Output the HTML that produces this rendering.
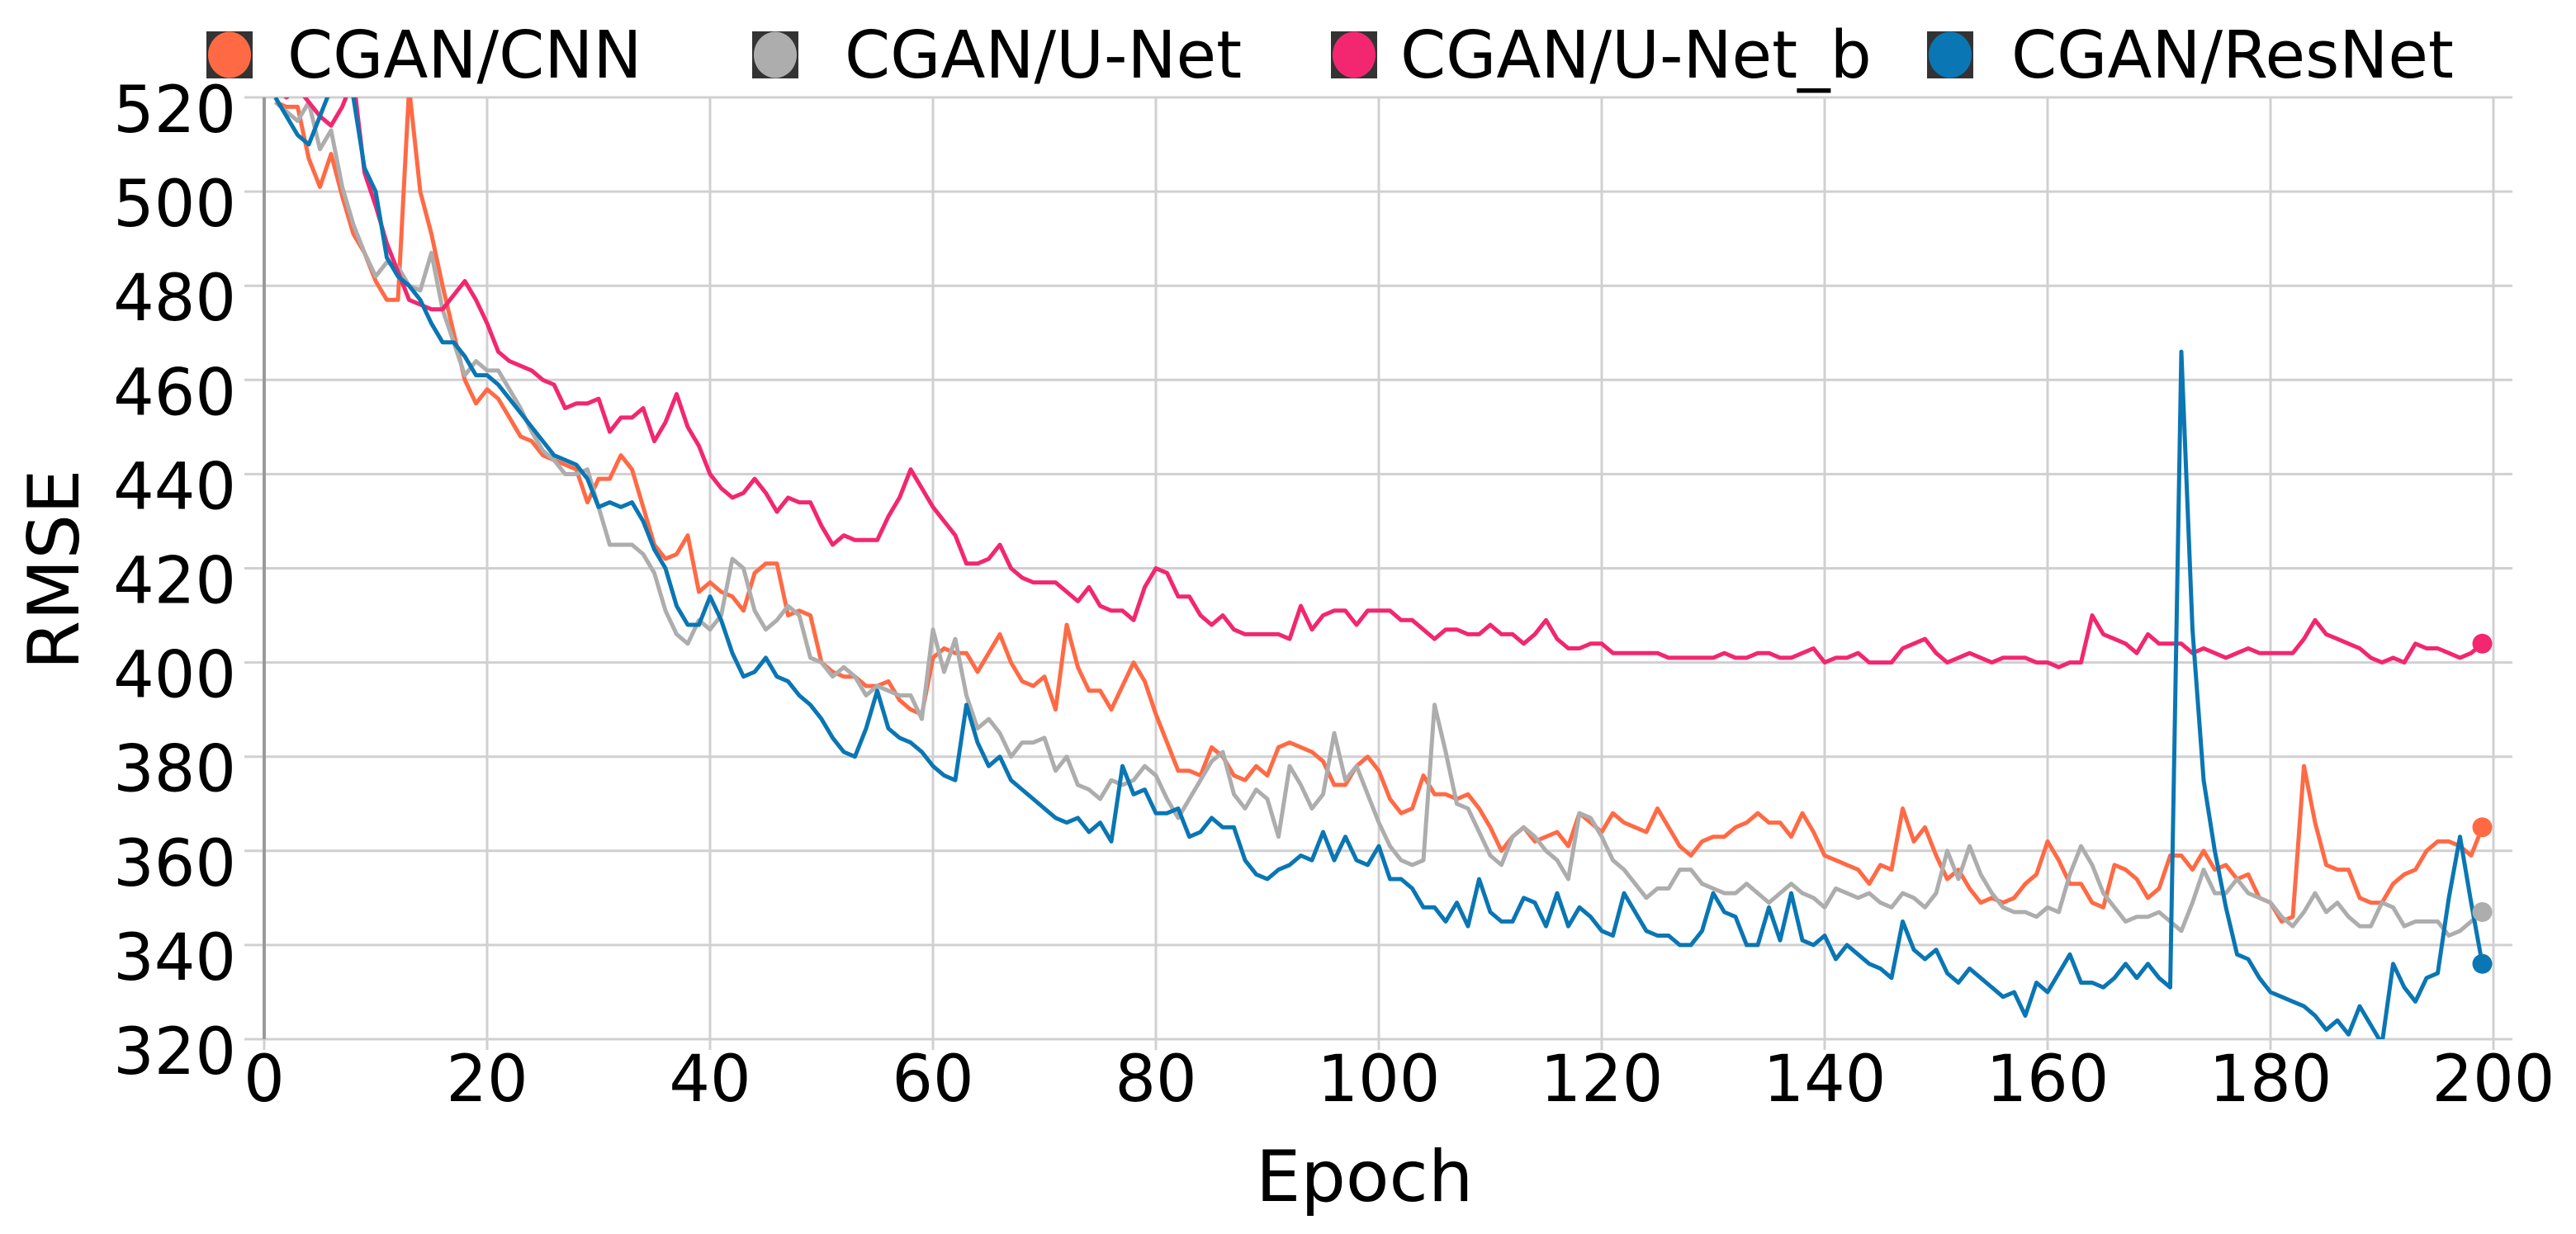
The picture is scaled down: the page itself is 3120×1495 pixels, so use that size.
<!DOCTYPE html>
<html><head><meta charset="utf-8">
<style>
html,body{margin:0;padding:0;background:#fff;}
svg{display:block;font-family:"DejaVu Sans","Liberation Sans",sans-serif;}
</style></head>
<body>
<svg id="chart" width="3120" height="1495" viewBox="0 0 3120 1495" xmlns="http://www.w3.org/2000/svg">
<defs><clipPath id="plotclip"><rect x="320" y="118" width="2723" height="1141"/></clipPath></defs>
<g id="grid"></g>
<g id="ticks"></g>
<g id="series" clip-path="url(#plotclip)"></g>
<g id="dots"></g>
<line x1="320" y1="118" x2="320" y2="1259" stroke="#9a9a9a" stroke-width="4"/>
<text x="1521" y="1455" font-size="86" fill="#000">Epoch</text>
<text x="0" y="0" font-size="86" fill="#000" text-anchor="middle" transform="translate(95,690) rotate(-90)">RMSE</text>
<g id="legend"></g>
</svg>
<script>
const epochs = [];
for (let e = 1; e <= 199; e++) epochs.push(e);
const xTicks = [0,20,40,60,80,100,120,140,160,180,200];
const yTicks = [320,340,360,380,400,420,440,460,480,500,520];
const seriesNames = ["CGAN/CNN","CGAN/U-Net","CGAN/U-Net_b","CGAN/ResNet"];
const cnn = [519,518,518,507,501,508,499,491,487,481,
477,477,522,500,491,480,470,460,455,458,
456,452,448,447,444,443,442,441,434,439,
439,444,441,433,425,422,423,427,415,417,
415,414,411,419,421,421,410,411,410,400,
398,397,397,395,395,396,392,390,389,401,
403,402,402,398,402,406,400,396,395,397,
390,408,399,394,394,390,395,400,396,389,
383,377,377,376,382,380,376,375,378,376,
382,383,382,381,379,374,374,378,380,377,
371,368,369,376,372,372,371,372,369,365,
360,363,365,362,363,364,361,368,366,364,
368,366,365,364,369,365,361,359,362,363,
363,365,366,368,366,366,363,368,364,359,
358,357,356,353,357,356,369,362,365,359,
354,356,352,349,350,349,350,353,355,362,
358,353,353,349,348,357,356,354,350,352,
359,359,356,360,356,357,354,355,350,349,
345,346,378,366,357,356,356,350,349,349,
353,355,356,360,362,362,361,359,365];
const unet = [519,517,515,519,509,513,501,493,487,482,
485,484,480,479,487,475,468,461,464,462,
462,458,454,449,445,443,440,440,441,433,
425,425,425,423,419,411,406,404,409,407,
410,422,420,411,407,409,412,410,401,400,
397,399,397,393,395,394,393,393,388,407,
398,405,393,386,388,385,380,383,383,384,
377,380,374,373,371,375,374,375,378,376,
371,367,371,375,379,381,372,369,373,371,
363,378,374,369,372,385,375,378,372,366,
361,358,357,358,391,381,370,369,364,359,
357,363,365,363,360,358,354,368,367,363,
358,356,353,350,352,352,356,356,353,352,
351,351,353,351,349,351,353,351,350,348,
352,351,350,351,349,348,351,350,348,351,
360,354,361,355,351,348,347,347,346,348,
347,355,361,357,351,348,345,346,346,347,
345,343,349,356,351,351,354,351,350,349,
346,344,347,351,347,349,346,344,344,349,
348,344,345,345,345,342,343,345,347];
const unetB = [522,520,522,519,516,514,518,524,504,497,
489,483,477,476,475,475,478,481,477,472,
466,464,463,462,460,459,454,455,455,456,
449,452,452,454,447,451,457,450,446,440,
437,435,436,439,436,432,435,434,434,429,
425,427,426,426,426,431,435,441,437,433,
430,427,421,421,422,425,420,418,417,417,
417,415,413,416,412,411,411,409,416,420,
419,414,414,410,408,410,407,406,406,406,
406,405,412,407,410,411,411,408,411,411,
411,409,409,407,405,407,407,406,406,408,
406,406,404,406,409,405,403,403,404,404,
402,402,402,402,402,401,401,401,401,401,
402,401,401,402,402,401,401,402,403,400,
401,401,402,400,400,400,403,404,405,402,
400,401,402,401,400,401,401,401,400,400,
399,400,400,410,406,405,404,402,406,404,
404,404,402,403,402,401,402,403,402,402,
402,402,405,409,406,405,404,403,401,400,
401,400,404,403,403,402,401,402,404];
const resnet = [520,516,512,510,516,522,528,520,505,500,
486,482,480,477,472,468,468,465,461,461,
459,456,453,450,447,444,443,442,439,433,
434,433,434,430,424,420,412,408,408,414,
409,402,397,398,401,397,396,393,391,388,
384,381,380,386,394,386,384,383,381,378,
376,375,391,383,378,380,375,373,371,369,
367,366,367,364,366,362,378,372,373,368,
368,369,363,364,367,365,365,358,355,354,
356,357,359,358,364,358,363,358,357,361,
354,354,352,348,348,345,349,344,354,347,
345,345,350,349,344,351,344,348,346,343,
342,351,347,343,342,342,340,340,343,351,
347,346,340,340,348,341,351,341,340,342,
337,340,338,336,335,333,345,339,337,339,
334,332,335,333,331,329,330,325,332,330,
334,338,332,332,331,333,336,333,336,333,
331,466,407,375,360,348,338,337,333,330,
329,328,327,325,322,324,321,327,323,319,
336,331,328,333,334,350,363,349,336];

const NS = "http://www.w3.org/2000/svg";
const X0 = 320, XPE = 13.5, Y520 = 118, Y320 = 1259;
function xs(e){ return X0 + e * XPE; }
function ys(v){ return Y320 - (v - 320) * (Y320 - Y520) / 200; }
function mk(tag, attrs){ const el = document.createElementNS(NS, tag); for (const k in attrs) el.setAttribute(k, attrs[k]); return el; }

const grid = document.getElementById('grid');
const ticks = document.getElementById('ticks');
xTicks.forEach(t => {
  const l = mk('line', {x1: xs(t), x2: xs(t), y1: 118, y2: 1272, stroke: '#d0d0d0', 'stroke-width': 3});
  
  
  grid.appendChild(l);
  const tx = mk('text', {x: xs(t), y: 1334, 'font-size': 78, 'text-anchor': 'middle', fill: '#000'});
  
  
  tx.textContent = t;
  ticks.appendChild(tx);
});
yTicks.forEach(t => {
  const l = mk('line', {x1: 296, x2: 3043, y1: ys(t), y2: ys(t), stroke: '#d0d0d0', 'stroke-width': 3});
  
  
  grid.appendChild(l);
  const tx = mk('text', {x: 286, y: ys(t) + 42, 'font-size': 78, 'text-anchor': 'end', fill: '#000'});
  
  
  tx.textContent = t;
  ticks.appendChild(tx);
});

const seriesData = [cnn, unet, unetB, resnet];
const colors = ['#ff6a45', '#adadad', '#f2276f', '#0a76b3'];
const seriesG = document.getElementById('series');
const dots = document.getElementById('dots');
seriesData.forEach((vals, i) => {
  const d = vals.map((v, j) => (j ? 'L' : 'M') + xs(epochs[j]).toFixed(1) + ' ' + ys(v).toFixed(1)).join(' ');
  const p = mk('path', {d: d, fill: 'none', stroke: colors[i], 'stroke-width': 5, 'stroke-linejoin': 'round'});
  
  
  seriesG.appendChild(p);
  const n = vals.length - 1;
  const c = mk('circle', {cx: xs(epochs[n]), cy: ys(vals[n]), r: 12, fill: colors[i]});
  
  
  dots.appendChild(c);
});

const legend = document.getElementById('legend');
const legMarkX = [250, 911, 1612, 2334];
const legTextX = [348, 1023, 1696, 2436];
seriesNames.forEach((name, i) => {
  const g = mk('g', {});
  
  
  g.appendChild(mk('rect', {x: legMarkX[i], y: 38, width: 56, height: 57, fill: '#333'}));
  g.appendChild(mk('ellipse', {cx: legMarkX[i] + 28, cy: 66.5, rx: 26, ry: 28, fill: colors[i]}));
  const t = mk('text', {x: legTextX[i], y: 94, 'font-size': 79, fill: '#000'});
  t.textContent = name;
  g.appendChild(t);
  legend.appendChild(g);
});
</script>
</body></html>
